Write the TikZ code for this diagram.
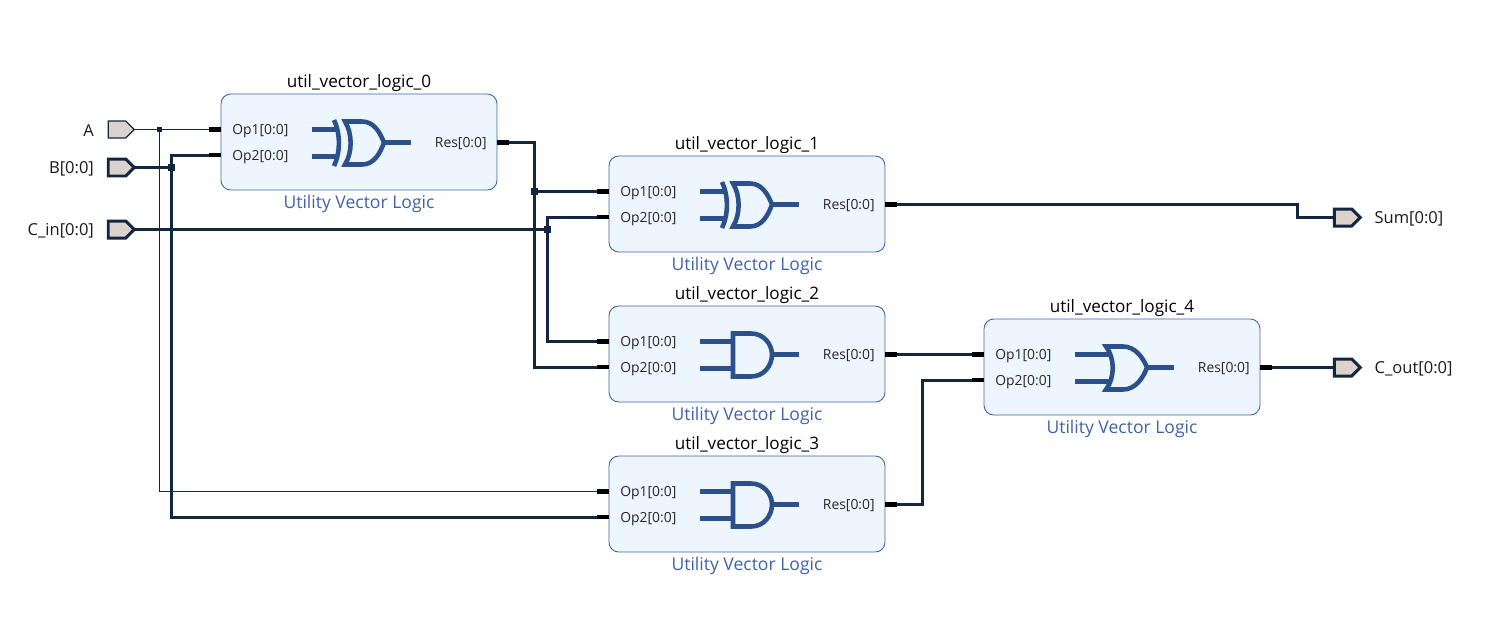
\documentclass[tikz,border=0pt]{standalone}
\usepackage{fontspec}
\setmainfont{Open Sans}
\usetikzlibrary{shapes.symbols,positioning}

\definecolor{wirecol}{HTML}{12263F}
\definecolor{iconcol}{HTML}{2C5089}
\definecolor{boxcol}{HTML}{EDF5FF}
\definecolor{edgecol}{HTML}{3F62A8}
\definecolor{portcol}{HTML}{DBD2CE}

\tikzset{
  gate/.style={draw=iconcol, line width=2.6pt, line cap=butt},
  andgate/.pic={
    \draw[gate] (-47,-13) -- (-14,-13) (-47,14) -- (-14,14) (25,0) -- (52,0);
    \draw[gate] (-14,-21) -- (4,-21) .. controls (17,-21) and (25,-10) .. (25,0)
      .. controls (25,11) and (17,22) .. (4,22) -- (-14,22) -- cycle;
  },
  orgate/.pic={
    \draw[gate] (-47,-13) -- (-10,-13) (-47,14) -- (-10,14) (25,0) -- (52,0);
    \draw[gate] (-16,-21) -- (1,-21) .. controls (13,-21) and (21,-10) .. (25,0)
      .. controls (21,11) and (13,22) .. (1,22) -- (-16,22)
      .. controls (-7,10) and (-7,-9) .. cycle;
  },
  xorgate/.pic={
    \draw[gate] (-47,-13) -- (-21,-13) (-47,14) -- (-21,14) (25,0) -- (52,0);
    \draw[gate] (-14,-21) -- (3,-21) .. controls (15,-21) and (21,-10) .. (25,0)
      .. controls (21,11) and (15,22) .. (3,22) -- (-14,22)
      .. controls (-6.5,10) and (-6.5,-9) .. cycle;
    \draw[gate] (-25,-22.5) .. controls (-18.5,-9) and (-18.5,10) .. (-25,23.5);
  },
}

\begin{document}
\begin{tikzpicture}[
  x=0.02cm, y=-0.02cm,
  block/.style={rectangle, draw=edgecol, fill=boxcol, line width=0.5pt, rounded corners=5.5pt,
                minimum width=5.52cm, minimum height=1.92cm, inner sep=0},
  title/.style={font=\fontsize{9.75}{11}\selectfont, text=black, inner sep=0},
  subtitle/.style={font=\fontsize{10}{11}\selectfont, text=edgecol, inner sep=0},
  pin/.style={font=\fontsize{7.9}{9}\selectfont, text=black!85, inner sep=0},
  portlbl/.style={font=\fontsize{9.4}{11}\selectfont, text=black!90, inner sep=0, yshift=-0.02cm},
  port/.style={signal, signal to=east, signal from=nowhere, fill=portcol, draw=wirecol,
               inner sep=0, minimum width=0.52cm, minimum height=0.34cm, outer sep=0},
  thinport/.style={port, line width=0.7pt},
  thickport/.style={port, line width=1.7pt},
  wire/.style={draw=wirecol, line width=1.7pt},
  thinwire/.style={draw=wirecol, line width=0.6pt},
  stub/.style={draw=black, line width=2.8pt},
  dot/.style={rectangle, fill=wirecol, inner sep=0},
  bigdot/.style={dot, minimum size=0.14cm},
  smalldot/.style={dot, minimum size=0.1cm}
]
\useasboundingbox (0,0) rectangle (1493,633);

% Ports
\node[thinport]  (a)    at (117,129.5) {};
\node[thickport] (b)    at (117,167.5) {};
\node[thickport] (cin)  at (117,229.5) {};
\node[thickport] (sum)  at (1343,217.5) {};
\node[thickport] (cout) at (1343,367.5) {};
\node[portlbl, left=0.28cm of a]     (alb)    {A};
\node[portlbl, left=0.28cm of b]     (blb)    {B[0:0]};
\node[portlbl, left=0.28cm of cin]   (cinlb)  {C\_in[0:0]};
\node[portlbl, right=0.28cm of sum]  (sumlb)  {Sum[0:0]};
\node[portlbl, right=0.28cm of cout] (coutlb) {C\_out[0:0]};

% Blocks
\foreach \n/\cx/\cy/\kind in {0/359/142/xorgate, 1/747/204/xorgate, 2/747/354/andgate,
                              3/747/504/andgate, 4/1122/367/orgate} {
  \node[block] (u\n) at (\cx,\cy) {};
  \node[title] (t\n) at (\cx,\cy-59) {util\_vector\_logic\_\n};
  \node[subtitle] (s\n) at (\cx,\cy+62) {Utility Vector Logic};
  \pic at (\cx,\cy+0.5) {\kind};
  \node[pin, anchor=west] (lop\n) at (\cx-127,\cy-11) {Op1[0:0]};
  \node[pin, anchor=west] (lot\n) at (\cx-127,\cy+15) {Op2[0:0]};
  \node[pin, anchor=east] (lre\n) at (\cx+128,\cy+1.5) {Res[0:0]};
  \coordinate (op\n) at (\cx-150,\cy-12.5);
  \coordinate (ot\n) at (\cx-150,\cy+13);
  \coordinate (re\n) at (\cx+150,\cy+0.5);
}

% Junctions
\node[smalldot] (ja)  at (159.5,129.5) {};
\node[bigdot]   (jb)  at (171.5,167.5) {};
\node[bigdot]   (jc)  at (547.5,229.5) {};
\node[bigdot]   (jr)  at (534.5,191.5) {};
\coordinate (bend1) at (1297.5,204.5);
\coordinate (bend3) at (922.5,504.5);

% Input A
\draw[thinwire] (a.east) -- (op0);
\draw[thinwire] (ja) |- (op3);

% Input B
\draw[wire] (b.east) -- (jb);
\draw[wire] (jb) |- (ot0);
\draw[wire] (jb) |- (ot3);

% Input C_in
\draw[wire] (cin.east) -- (jc);
\draw[wire] (jc) |- (ot1);
\draw[wire] (jc) |- (op2);

% First sum
\draw[wire] (re0) -| (jr);
\draw[wire] (jr) |- (ot2);
\draw[wire] (jr) -- (op1);

% Outputs
\draw[wire] (re1) -- (bend1) |- (sum.west);
\draw[wire] (re2) -- (op4);
\draw[wire] (re3) -- (bend3) |- (ot4);
\draw[wire] (re4) -- (cout.west);

% Pin stubs
\foreach \n in {0,...,4} {
  \draw[stub] (op\n) -- ++(12,0);
  \draw[stub] (ot\n) -- ++(12,0);
  \draw[stub] (re\n) -- ++(-12,0);
}

\end{tikzpicture}
\end{document}
